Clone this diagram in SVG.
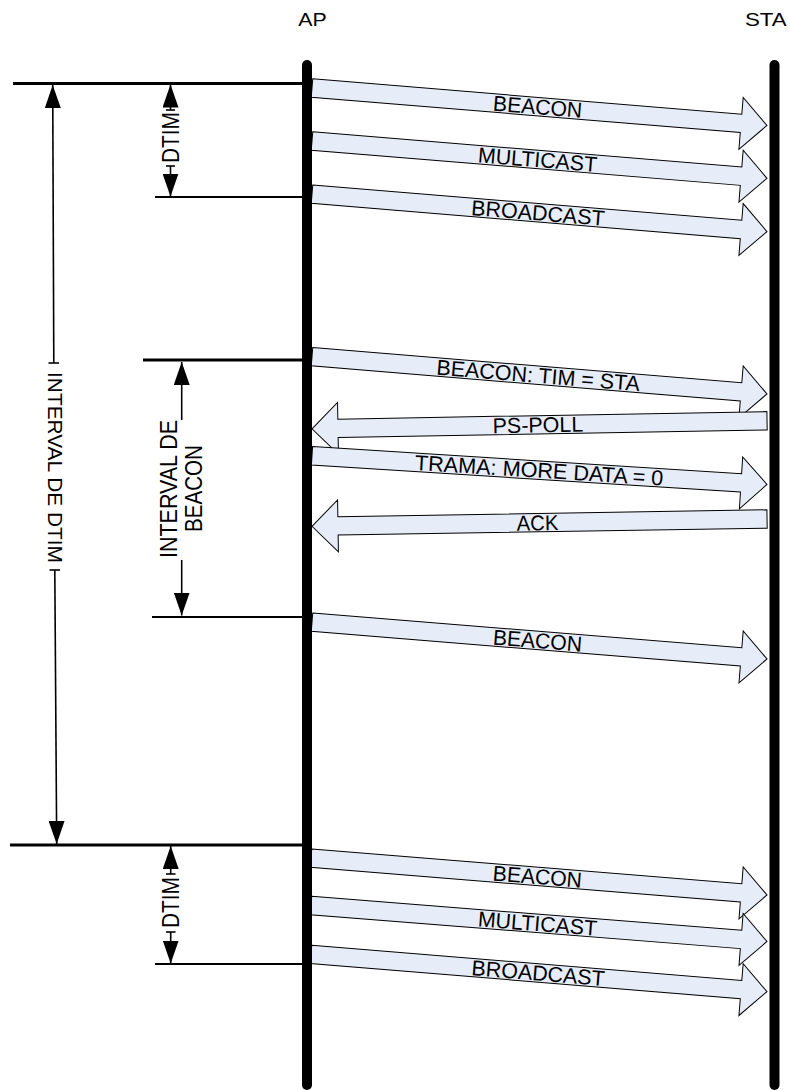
<svg xmlns="http://www.w3.org/2000/svg" width="790" height="1090" viewBox="0 0 790 1090">
  <style>
    .msg path { fill: #E7EDF8; stroke: #000; stroke-width: 1; stroke-linejoin: miter; }
    .lbl { font-family: "Liberation Sans", Arial, sans-serif; font-size: 21.5px; fill: #000; text-anchor: middle; }
    .hdr { font-family: "Liberation Sans", Arial, sans-serif; font-size: 18px; fill: #000; }
    .dim { font-family: "Liberation Sans", Arial, sans-serif; font-size: 23px; fill: #000; text-anchor: middle; }
    .life { stroke: #000; stroke-width: 10; stroke-linecap: round; fill: none; }
    .ext3 { stroke: #000; stroke-width: 3; }
    .ext2 { stroke: #000; stroke-width: 2; }
    .dl { stroke: #000; stroke-width: 1.6; fill: none; }
    .tick { stroke: #000; stroke-width: 1.6; }
  </style>
  <defs>
    <marker id="ah" markerUnits="userSpaceOnUse" markerWidth="23" markerHeight="16" refX="23" refY="8" orient="auto" viewBox="0 0 23 16">
      <path d="M0,0 L23,8 L0,16 Z" fill="#000"/>
    </marker>
  </defs>

  <!-- extension lines -->
  <g id="extension-lines">
    <line class="ext3" x1="13" y1="83.5" x2="307" y2="83.5"/>
    <line class="ext2" x1="155" y1="197" x2="307" y2="197"/>
    <line class="ext3" x1="143" y1="360" x2="307" y2="360"/>
    <line class="ext2" x1="152" y1="617" x2="307" y2="617"/>
    <line class="ext3" x1="10" y1="845" x2="307" y2="845"/>
    <line class="ext2" x1="155" y1="964" x2="307" y2="964"/>
  </g>

  <!-- dimension connectors -->
  <g id="dimensions">
    <g id="dim-dtim-1">
      <line class="dl" x1="170.5" y1="110" x2="170.5" y2="84.5" marker-end="url(#ah)"/>
      <line class="dl" x1="170.5" y1="166" x2="170.5" y2="196.5" marker-end="url(#ah)"/>
      <line class="tick" x1="166" y1="110" x2="175" y2="110"/>
      <line class="tick" x1="166" y1="166" x2="175" y2="166"/>
      <text class="dim" transform="translate(178.5,137.5) rotate(-90)" textLength="51" lengthAdjust="spacingAndGlyphs">DTIM</text>
    </g>
    <g id="dim-interval-dtim">
      <line class="dl" x1="53.8" y1="363" x2="52.7" y2="85" marker-end="url(#ah)"/>
      <line class="dl" x1="54.8" y1="570" x2="56.7" y2="844" marker-end="url(#ah)"/>
      <line class="tick" x1="48.5" y1="363" x2="59" y2="363"/>
      <line class="tick" x1="49.5" y1="570" x2="60" y2="570"/>
      <text class="dim" style="font-size:21px" transform="translate(47.5,467.5) rotate(90)" textLength="191" lengthAdjust="spacingAndGlyphs">INTERVAL DE DTIM</text>
    </g>
    <g id="dim-interval-beacon">
      <line class="dl" x1="181.7" y1="420" x2="181.7" y2="362" marker-end="url(#ah)"/>
      <line class="dl" x1="181.7" y1="560" x2="181.7" y2="615.5" marker-end="url(#ah)"/>
      <text class="dim" transform="translate(177,489) rotate(-90)" textLength="138" lengthAdjust="spacingAndGlyphs">INTERVAL DE</text>
      <text class="dim" transform="translate(202,488.5) rotate(-90)" textLength="87" lengthAdjust="spacingAndGlyphs">BEACON</text>
    </g>
    <g id="dim-dtim-2">
      <line class="dl" x1="170.7" y1="874" x2="170.7" y2="846" marker-end="url(#ah)"/>
      <line class="dl" x1="170.7" y1="932" x2="170.7" y2="963.5" marker-end="url(#ah)"/>
      <line class="tick" x1="166" y1="874" x2="175.5" y2="874"/>
      <line class="tick" x1="166" y1="932" x2="175.5" y2="932"/>
      <text class="dim" transform="translate(178.5,902.5) rotate(-90)" textLength="51" lengthAdjust="spacingAndGlyphs">DTIM</text>
    </g>
  </g>

  <!-- message arrows -->
  <g id="messages">
    <g id="msg-beacon-1" class="msg" transform="translate(312,88) rotate(4.712)">
      <path d="M0,-9.2 H430.5 V-26 L456.5,0 L430.5,26 V9.2 H0 Z"/>
      <text class="lbl" x="226.5" y="7.6" textLength="89.3" lengthAdjust="spacingAndGlyphs">BEACON</text>
    </g>
    <g id="msg-multicast-1" class="msg" transform="translate(312,141) rotate(4.687)">
      <path d="M0,-9.2 H430.5 V-26 L456.5,0 L430.5,26 V9.2 H0 Z"/>
      <text class="lbl" x="226.3" y="7.6" textLength="119.4" lengthAdjust="spacingAndGlyphs">MULTICAST</text>
    </g>
    <g id="msg-broadcast-1" class="msg" transform="translate(312,194.2) rotate(4.699)">
      <path d="M0,-9.2 H430.5 V-26 L456.5,0 L430.5,26 V9.2 H0 Z"/>
      <text class="lbl" x="226.8" y="7.6" textLength="133.6" lengthAdjust="spacingAndGlyphs">BROADCAST</text>
    </g>
    <g id="msg-beacon-tim" class="msg" transform="translate(312,356.7) rotate(4.687)">
      <path d="M0,-9.2 H430.5 V-26 L456.5,0 L430.5,26 V9.2 H0 Z"/>
      <text class="lbl" x="227" y="7.6" textLength="204" lengthAdjust="spacingAndGlyphs">BEACON: TIM = STA</text>
    </g>
    <g id="msg-ps-poll" class="msg" transform="translate(312,428.8) rotate(-1.007)">
      <path d="M0,0 L26,-26 V-9.2 H455.1 V9.2 H26 V26 Z"/>
      <text class="lbl" x="226" y="7.6" textLength="90.6" lengthAdjust="spacingAndGlyphs">PS-POLL</text>
    </g>
    <g id="msg-trama" class="msg" transform="translate(312,455.8) rotate(3.609)">
      <path d="M0,-9.2 H429.9 V-26 L455.9,0 L429.9,26 V9.2 H0 Z"/>
      <text class="lbl" x="227.6" y="7.6" textLength="248.8" lengthAdjust="spacingAndGlyphs">TRAMA: MORE DATA = 0</text>
    </g>
    <g id="msg-ack" class="msg" transform="translate(312,526.3) rotate(-0.919)">
      <path d="M0,0 L26,-26 V-9.2 H455.1 V9.2 H26 V26 Z"/>
      <text class="lbl" x="225.5" y="7.6" textLength="41.7" lengthAdjust="spacingAndGlyphs">ACK</text>
    </g>
    <g id="msg-beacon-2" class="msg" transform="translate(312,622.2) rotate(4.624)">
      <path d="M0,-9.2 H430.5 V-26 L456.5,0 L430.5,26 V9.2 H0 Z"/>
      <text class="lbl" x="226.3" y="7.6" textLength="89.3" lengthAdjust="spacingAndGlyphs">BEACON</text>
    </g>
    <g id="msg-beacon-3" class="msg" transform="translate(311,858.2) rotate(4.614)">
      <path d="M0,-9.2 H431.5 V-26 L457.5,0 L431.5,26 V9.2 H0 Z"/>
      <text class="lbl" x="227.2" y="7.6" textLength="89.3" lengthAdjust="spacingAndGlyphs">BEACON</text>
    </g>
    <g id="msg-multicast-2" class="msg" transform="translate(311,905.5) rotate(4.514)">
      <path d="M0,-9.2 H431.4 V-26 L457.4,0 L431.4,26 V9.2 H0 Z"/>
      <text class="lbl" x="227.2" y="7.6" textLength="119.4" lengthAdjust="spacingAndGlyphs">MULTICAST</text>
    </g>
    <g id="msg-broadcast-2" class="msg" transform="translate(311,954.3) rotate(4.689)">
      <path d="M0,-9.2 H431.5 V-26 L457.5,0 L431.5,26 V9.2 H0 Z"/>
      <text class="lbl" x="228" y="7.6" textLength="133.6" lengthAdjust="spacingAndGlyphs">BROADCAST</text>
    </g>
  </g>

  <!-- lifelines -->
  <g id="node-ap">
    <line class="life" x1="307" y1="65" x2="307" y2="1085"/>
    <text class="hdr" x="298.3" y="25.7" textLength="28.4" lengthAdjust="spacingAndGlyphs">AP</text>
  </g>
  <g id="node-sta">
    <line class="life" x1="774.5" y1="65" x2="774.5" y2="1085"/>
    <text class="hdr" x="745" y="25.7" textLength="41.7" lengthAdjust="spacingAndGlyphs">STA</text>
  </g>
</svg>
